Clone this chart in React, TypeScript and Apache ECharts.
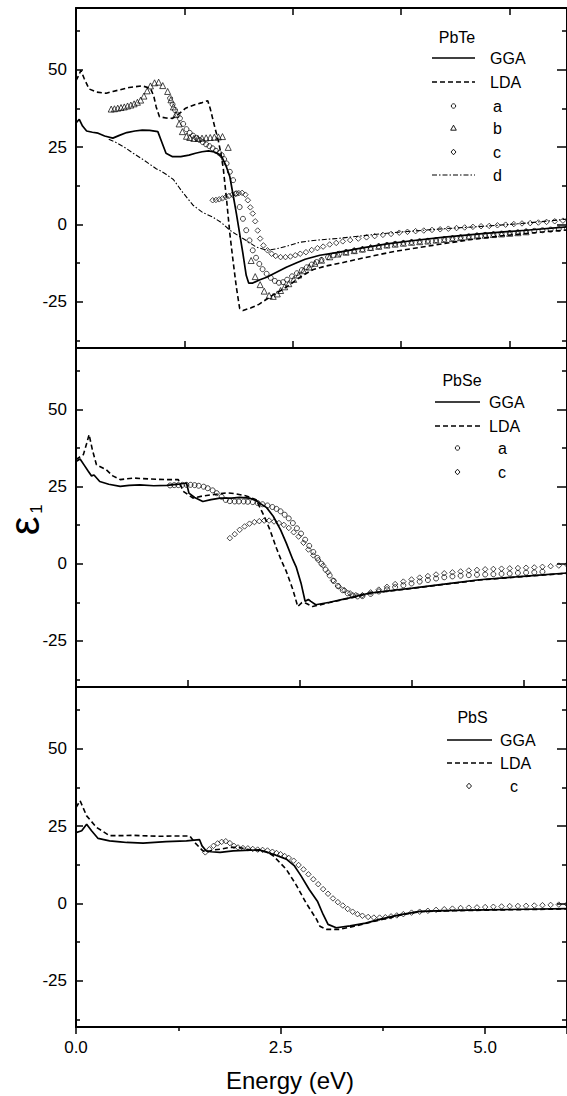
import React, { useEffect, useRef } from 'react';
import * as echarts from 'echarts';

const FONT = '"Liberation Sans", Arial, Helvetica, sans-serif';

// ---------- axes ----------
const X_MIN = 0;
const X_MAX = 6.0;
const X_INTERVAL = 2.5;
const TOP_TICK_MAX = 4.53;   // tick scale drawn on the PbTe frame
const MID_TICK_MAX = 4.39;   // tick scale drawn on the PbSe frame
const Y_MIN = -40;
const Y_MAX = 70;
const Y_MAJOR = [-25, 0, 25, 50];
const Y_MINOR = [-37.5, -12.5, 12.5, 37.5, 62.5];

// ---------- PbTe ----------
const ggaTe = [[0,32.8],[0.04,34],[0.08,31.8],[0.13,30.2],[0.2,29.8],[0.27,29.5],[0.35,28.6],[0.45,27.9],[0.53,28.8],[0.62,29.7],[0.72,30.2],[0.81,30.5],[0.9,30.4],[1.0,30],[1.05,26.5],[1.1,23],[1.18,21.9],[1.28,21.9],[1.38,22.4],[1.46,23],[1.54,23.5],[1.62,23.8],[1.69,23.4],[1.74,22.8],[1.78,21.9],[1.83,19.2],[1.88,15.4],[1.92,9.5],[1.96,3.5],[2.0,-3],[2.04,-9.5],[2.08,-16.5],[2.11,-19],[2.16,-19],[2.24,-18],[2.33,-17.1],[2.45,-15.5],[2.57,-13.9],[2.69,-12.5],[2.8,-11.3],[2.98,-10],[3.22,-9],[3.5,-7.6],[3.8,-6.3],[4.1,-5.3],[4.5,-4.1],[5.0,-2.9],[5.5,-1.9],[6.0,-0.8]];
const ldaTe = [[0,46.5],[0.03,48],[0.06,49.8],[0.1,47.2],[0.16,43.8],[0.25,42.8],[0.37,42.4],[0.45,43],[0.53,43.5],[0.65,44.3],[0.81,44.8],[0.91,44],[0.95,41.5],[0.98,38],[1.02,34.8],[1.1,34.4],[1.18,34.3],[1.26,35.8],[1.34,37.6],[1.45,38.7],[1.53,39.3],[1.61,40],[1.64,37.5],[1.7,31],[1.74,27],[1.77,23],[1.8,18],[1.84,8],[1.88,-3],[1.92,-12],[1.96,-20.4],[2.0,-27.2],[2.04,-27.9],[2.14,-27],[2.24,-25.8],[2.41,-22.8],[2.53,-21],[2.65,-18.8],[2.77,-16.5],[2.9,-14.6],[3.05,-13.5],[3.22,-12.6],[3.54,-10.7],[3.9,-8.7],[4.36,-6.8],[4.8,-5],[5.17,-3.8],[5.6,-2.7],[6.0,-1.8]];
const dTe = [[0.4,27.5],[0.49,26.5],[0.6,24.8],[0.7,23],[0.84,20.6],[0.98,18],[1.02,17.5],[1.1,16.2],[1.19,14.5],[1.3,10.5],[1.43,6.2],[1.55,3.8],[1.67,2.4],[1.78,0.5],[1.88,-1.9],[1.98,-3.6],[2.08,-5.2],[2.2,-7.3],[2.33,-8.4],[2.45,-7.9],[2.61,-6.8],[2.73,-5.8],[2.9,-5.2],[3.22,-4.5],[3.6,-3.4],[3.95,-2.5],[4.5,-1.4],[5.0,-0.6],[5.5,0.4],[6.0,1.7]];
const aTe = [[1.15,40.8],[1.18,38.8],[1.21,37],[1.24,35.5],[1.27,34.3],[1.31,32.5],[1.35,30.8],[1.39,29.6],[1.43,28.7],[1.47,28],[1.51,27.3],[1.55,26.6],[1.59,25.9],[1.63,25.3],[1.67,24.6],[1.71,23.8],[1.75,23.1],[1.78,22.4],[1.81,21.1],[1.84,19.7],[1.88,17],[1.92,14.3],[1.96,10],[2.0,5.6],[2.04,1.8],[2.08,-1.9],[2.12,-5.2],[2.16,-8.4],[2.2,-10.8],[2.24,-12.8],[2.28,-14.5],[2.33,-16],[2.38,-17.3],[2.43,-18.3],[2.48,-18.9],[2.53,-18.7],[2.58,-17.9],[2.64,-16.8],[2.7,-15.8],[2.76,-14.8],[2.82,-13.9],[2.88,-13],[2.94,-12.2],[3.0,-11.5],[3.08,-10.6],[3.15,-10],[3.22,-9.5],[3.3,-9],[3.4,-8.5],[3.5,-8.1],[3.6,-7.6],[3.7,-7.1],[3.8,-6.7],[3.9,-6.3],[4.0,-6],[4.1,-5.7],[4.2,-5.5],[4.3,-5.3],[4.4,-5.1],[4.5,-4.8],[4.6,-4.5],[4.7,-4.2],[4.8,-3.9],[4.9,-3.6],[5.0,-3.4],[5.1,-3.2],[5.2,-3],[5.3,-2.8],[5.4,-2.6],[5.5,-2.3],[5.6,-2.1],[5.7,-1.9],[5.8,-1.7],[5.9,-1.5],[6.0,-1.3]];
const bTe = [[0.43,37.3],[0.47,37.4],[0.51,37.6],[0.55,37.8],[0.59,38],[0.63,38.3],[0.67,38.6],[0.71,39],[0.75,39.5],[0.79,40.2],[0.83,41.5],[0.87,43.2],[0.91,44.8],[0.96,45.8],[1.01,46],[1.06,44.9],[1.12,43],[1.16,40.3],[1.19,38],[1.22,35.5],[1.26,32.5],[1.3,30],[1.35,28.5],[1.39,28.1],[1.44,27.8],[1.49,27.8],[1.54,27.9],[1.59,28],[1.64,28.1],[1.69,28.2],[1.74,28.3],[1.79,28.4],[1.86,24.9],[2.14,-11.7],[2.19,-16.9],[2.25,-19.5],[2.3,-21.6],[2.36,-23],[2.41,-23.3],[2.46,-22.5],[2.5,-21.4],[2.55,-20.2],[2.6,-19.2],[2.66,-17.8],[2.72,-16.4],[2.78,-15],[2.85,-13.8],[2.92,-12.6],[3.0,-11.6],[3.1,-10.5],[3.2,-9.6],[3.3,-9],[3.4,-8.5],[3.5,-8],[3.6,-7.5],[3.7,-7.1],[3.8,-6.7],[3.9,-6.4],[4.0,-6.1],[4.1,-5.8],[4.2,-5.6],[4.3,-5.4],[4.4,-5.1],[4.5,-4.9],[4.6,-4.6],[4.7,-4.3],[4.8,-4],[4.9,-3.7],[5.0,-3.5],[5.1,-3.3],[5.2,-3.1],[5.3,-2.9],[5.4,-2.7],[5.5,-2.4]];
const cTe = [[1.67,7.8],[1.71,7.9],[1.75,8.1],[1.79,8.4],[1.83,8.8],[1.87,9.2],[1.91,9.6],[1.95,9.9],[1.99,10.1],[2.03,10.2],[2.07,9.6],[2.1,7.8],[2.13,5.5],[2.16,3.5],[2.19,1],[2.22,-2],[2.25,-4.6],[2.29,-6.8],[2.34,-8.4],[2.39,-9.5],[2.44,-10.2],[2.5,-10.6],[2.56,-10.6],[2.62,-10.4],[2.68,-10],[2.74,-9.5],[2.81,-9],[2.88,-8.3],[2.95,-7.7],[3.02,-7.2],[3.1,-6.5],[3.18,-6],[3.26,-5.5],[3.35,-5.1],[3.45,-4.6],[3.55,-4.2],[3.65,-3.8],[3.75,-3.4],[3.85,-3.1],[3.95,-2.7],[4.05,-2.4],[4.15,-2.2],[4.25,-2],[4.35,-1.8],[4.45,-1.6],[4.55,-1.4],[4.65,-1.2],[4.75,-1],[4.85,-0.8],[4.95,-0.6],[5.05,-0.5],[5.15,-0.3],[5.25,-0.1],[5.35,0.1],[5.45,0.3],[5.55,0.4],[5.65,0.6],[5.75,0.8],[5.85,1],[5.95,1.2]];

// ---------- PbSe ----------
const ggaSe = [[0,33.2],[0.05,34],[0.1,32],[0.15,30],[0.19,28.5],[0.22,28.8],[0.29,26.7],[0.4,25.8],[0.54,25.1],[0.65,25.4],[0.78,25.6],[0.95,25.3],[1.11,25.4],[1.25,25.8],[1.35,26.2],[1.38,22.9],[1.45,21.5],[1.55,20.2],[1.65,20.8],[1.76,21.3],[1.9,21.3],[2.0,21.5],[2.12,21.3],[2.2,20.5],[2.24,19.7],[2.33,18.2],[2.41,15.4],[2.5,11],[2.57,6.7],[2.65,1.3],[2.69,-1],[2.75,-6.3],[2.8,-12.2],[2.84,-11.6],[2.87,-12.2],[2.93,-13.3],[3.1,-12.5],[3.34,-11.1],[3.59,-9.5],[4.11,-7.9],[4.5,-6.6],[4.93,-5.2],[5.5,-4],[6.0,-3]];
const ldaSe = [[0,33.8],[0.09,35.4],[0.13,39],[0.16,41.9],[0.2,37],[0.25,32.1],[0.37,30.5],[0.45,28.5],[0.54,27.3],[0.7,27.8],[0.9,27.5],[1.1,27.3],[1.25,27.3],[1.31,23.5],[1.43,21.3],[1.55,22],[1.67,22.4],[1.84,23],[1.95,22.7],[2.08,22],[2.2,20.8],[2.3,15.4],[2.37,11],[2.45,5],[2.51,1],[2.57,-2.5],[2.65,-8.4],[2.71,-13.9],[2.76,-12.6],[2.81,-12.8],[2.89,-13.9],[3.1,-12.6],[3.34,-11.2],[3.59,-9.6],[4.11,-8],[4.5,-6.7],[4.93,-5.3],[5.5,-4.1],[6.0,-3.1]];
const aSe = [[1.15,25.4],[1.2,25.5],[1.25,25.5],[1.3,25.6],[1.35,25.6],[1.4,25.6],[1.45,25.5],[1.5,25.3],[1.56,25],[1.61,24.5],[1.67,23.8],[1.72,22.9],[1.78,21.7],[1.83,20.7],[1.88,20.3],[1.94,20.2],[1.99,20.2],[2.05,20.2],[2.1,20.1],[2.16,20],[2.22,19.7],[2.28,19.3],[2.34,18.9],[2.4,18.4],[2.45,17.8],[2.5,17],[2.55,15.9],[2.6,14.7],[2.65,13.2],[2.7,11.5],[2.75,9.8],[2.8,7.8],[2.85,5.8],[2.9,3.8],[2.95,1.9],[3.0,0],[3.05,-1.9],[3.1,-3.8],[3.15,-5.6],[3.2,-7.2],[3.26,-8.6],[3.32,-9.6],[3.38,-10.3],[3.44,-10.6],[3.5,-10.5],[3.6,-9.8],[3.7,-9],[3.8,-8.3],[3.9,-7.6],[4.0,-7],[4.1,-6.4],[4.2,-5.8],[4.3,-5.3],[4.4,-4.8],[4.5,-4.4],[4.6,-4.1],[4.7,-3.9],[4.8,-3.7],[4.9,-3.6],[5.0,-3.5],[5.1,-3.4],[5.2,-3.3],[5.3,-3.2],[5.4,-3],[5.5,-2.9],[5.6,-2.8],[5.7,-2.6]];
const cSe = [[1.88,8.3],[1.94,9.6],[2.0,11],[2.06,12.1],[2.12,13],[2.18,13.5],[2.24,13.8],[2.3,14],[2.36,14],[2.42,13.7],[2.48,13.2],[2.54,12.6],[2.6,11.6],[2.66,10.2],[2.72,8.8],[2.78,6.8],[2.84,4.6],[2.9,2.7],[2.96,1.2],[3.02,-0.6],[3.08,-2.8],[3.14,-5.4],[3.21,-7.4],[3.28,-8.6],[3.35,-9.6],[3.42,-10.2],[3.5,-10.2],[3.6,-9.3],[3.7,-8.4],[3.8,-7.5],[3.9,-6.6],[4.0,-5.8],[4.1,-5.1],[4.2,-4.5],[4.3,-4],[4.4,-3.5],[4.5,-3.1],[4.6,-2.8],[4.7,-2.5],[4.8,-2.2],[4.9,-2],[5.0,-1.8],[5.1,-1.7],[5.2,-1.6],[5.3,-1.5],[5.4,-1.4],[5.5,-1.3],[5.6,-1.2],[5.7,-1],[5.8,-0.8],[5.9,-0.6],[6.0,-0.3]];

// ---------- PbS ----------
const ggaS = [[0,22.9],[0.07,23.5],[0.13,25.6],[0.19,23.5],[0.27,21],[0.41,20.2],[0.54,19.9],[0.62,19.7],[0.82,19.5],[1.1,20],[1.35,20.2],[1.51,20.6],[1.54,18.6],[1.59,17],[1.65,16.7],[1.76,16.5],[1.92,17],[2.24,17.3],[2.41,15.9],[2.57,14.3],[2.67,12.1],[2.75,8.9],[2.85,4.5],[2.95,0.7],[3.02,-3.6],[3.08,-6.8],[3.18,-7.9],[3.35,-7.3],[3.54,-6.4],[3.71,-5.2],[3.95,-3.7],[4.2,-2.6],[4.6,-2.3],[5.0,-2.1],[5.5,-1.9],[6.0,-1.7]];
const ldaS = [[0,31],[0.05,33.2],[0.13,28.3],[0.25,24.6],[0.41,21.9],[0.54,21.9],[0.7,22],[1.02,21.7],[1.2,21.8],[1.39,21.8],[1.45,19.7],[1.55,17],[1.59,16.5],[1.67,17.3],[1.76,17.5],[1.88,18.1],[2.0,18.1],[2.08,17.5],[2.24,17],[2.33,16.7],[2.41,15.4],[2.49,13.2],[2.57,11],[2.69,6],[2.81,0.2],[2.94,-5.2],[2.98,-7.4],[3.06,-8.4],[3.22,-8.4],[3.4,-7.4],[3.71,-5.4],[4.0,-3.6],[4.2,-2.7],[4.6,-2.4],[5.0,-2.2],[5.5,-2],[6.0,-1.8]];
const cS = [[1.58,16.5],[1.63,17.5],[1.68,18.6],[1.73,19.4],[1.78,19.9],[1.83,20.1],[1.88,19.5],[1.93,18.6],[1.98,18.1],[2.04,17.9],[2.1,17.8],[2.16,17.6],[2.22,17.4],[2.28,17.3],[2.34,17.1],[2.4,16.7],[2.45,16.3],[2.5,15.9],[2.55,15.3],[2.6,14.7],[2.66,13.8],[2.72,12.4],[2.78,11],[2.84,9.4],[2.9,7.8],[2.96,6.2],[3.02,4.6],[3.08,3.1],[3.14,1.6],[3.2,0.4],[3.26,-0.7],[3.32,-1.8],[3.38,-2.7],[3.44,-3.5],[3.5,-4],[3.57,-4.4],[3.64,-4.6],[3.71,-4.6],[3.78,-4.5],[3.85,-4.2],[3.92,-3.9],[4.0,-3.5],[4.1,-3],[4.2,-2.7],[4.3,-2.4],[4.4,-2.1],[4.5,-1.9],[4.6,-1.7],[4.7,-1.5],[4.8,-1.4],[4.9,-1.3],[5.0,-1.2],[5.1,-1.1],[5.2,-1],[5.3,-0.9],[5.4,-0.85],[5.5,-0.8],[5.6,-0.7],[5.7,-0.6],[5.8,-0.5],[5.9,-0.4],[6.0,-0.3]];

const DASH = [5, 3];
const DASHDOT = [5, 2, 1.5, 2];

function lineSeries(name: string, data: number[][], g: number, type: any, width: number) {
  return {
    name, type: 'line', data, xAxisIndex: g * 3, yAxisIndex: g * 4,
    symbol: 'none', showSymbol: false, smooth: false,
    lineStyle: { color: '#000', width, type },
    z: 3,
  };
}
function scatterSeries(name: string, data: number[][], g: number, symbol: string, size: number) {
  return {
    name, type: 'scatter', data, xAxisIndex: g * 3, yAxisIndex: g * 4,
    symbol, symbolSize: size,
    itemStyle: { color: 'rgba(0,0,0,0)', borderColor: '#000', borderWidth: 0.9 },
    z: 4,
  };
}

function buildOption() {
  const grids = [
    { left: 76, top: 8, width: 493, height: 340 },
    { left: 76, top: 348, width: 493, height: 339 },
    { left: 76, top: 687, width: 493, height: 340 },
  ];
  const frameLine = { show: true, onZero: false, lineStyle: { color: '#000', width: 2 } };
  const xAxis: any[] = [];
  const hiddenData = (g: number) => ({ type: 'value', gridIndex: g, min: X_MIN, max: X_MAX, show: false, axisLine: { onZero: false } });
  const tickAxis = (g: number, pos: string, max: number, ticks: boolean) => ({
    type: 'value', gridIndex: g, position: pos, min: 0, max, interval: 1,
    axisLine: frameLine,
    axisTick: { show: ticks, inside: true, length: 7, lineStyle: { color: '#000', width: 1.5 } },
    axisLabel: { show: false }, splitLine: { show: false },
  });
  // grid 0
  xAxis.push(hiddenData(0), tickAxis(0, 'top', TOP_TICK_MAX, true), tickAxis(0, 'bottom', TOP_TICK_MAX, true));
  // grid 1
  xAxis.push(hiddenData(1), tickAxis(1, 'top', MID_TICK_MAX, false), tickAxis(1, 'bottom', MID_TICK_MAX, true));
  // grid 2: labelled data axis
  xAxis.push({
    type: 'value', gridIndex: 2, position: 'bottom', min: X_MIN, max: X_MAX, interval: X_INTERVAL,
    axisLine: frameLine,
    axisTick: { show: true, inside: false, length: 7, lineStyle: { color: '#000', width: 1.5 } },
    minorTick: { show: true, splitNumber: 2, length: 4, lineStyle: { color: '#000', width: 1.5 } },
    axisLabel: { show: true, fontSize: 17, color: '#000', fontFamily: FONT, margin: 12, showMaxLabel: false, formatter: (v: number) => v.toFixed(1) },
    splitLine: { show: false }, minorSplitLine: { show: false },
  }, tickAxis(2, 'top', MID_TICK_MAX, false));

  const yAxis: any[] = [];
  for (let g = 0; g < 3; g++) {
    const base = { type: 'value', gridIndex: g, min: Y_MIN, max: Y_MAX, splitLine: { show: false } };
    yAxis.push({
      ...base, position: 'left', axisLine: frameLine,
      axisTick: { show: true, inside: true, length: 7, customValues: Y_MAJOR, lineStyle: { color: '#000', width: 1.5 } },
      axisLabel: { show: true, customValues: Y_MAJOR, fontSize: 17, color: '#000', fontFamily: FONT, margin: 9 },
    });
    yAxis.push({
      ...base, position: 'left', axisLine: { show: false, onZero: false },
      axisTick: { show: true, inside: true, length: 4, customValues: Y_MINOR, lineStyle: { color: '#000', width: 1.5 } },
      axisLabel: { show: false },
    });
    yAxis.push({
      ...base, position: 'right', axisLine: frameLine,
      axisTick: { show: true, inside: true, length: 10, customValues: Y_MAJOR, lineStyle: { color: '#000', width: 1.5 } },
      axisLabel: { show: false },
    });
    yAxis.push({
      ...base, position: 'right', axisLine: { show: false, onZero: false },
      axisTick: { show: true, inside: true, length: 5, customValues: Y_MINOR, lineStyle: { color: '#000', width: 1.5 } },
      axisLabel: { show: false },
    });
  }

  const series = [
    lineSeries('GGA', ggaTe, 0, 'solid', 1.7),
    lineSeries('LDA', ldaTe, 0, DASH, 1.6),
    lineSeries('d', dTe, 0, DASHDOT, 1.1),
    scatterSeries('a', aTe, 0, 'circle', 5),
    scatterSeries('b', bTe, 0, 'triangle', 6),
    scatterSeries('c', cTe, 0, 'diamond', 5.5),
    lineSeries('GGA', ggaSe, 1, 'solid', 1.7),
    lineSeries('LDA', ldaSe, 1, DASH, 1.6),
    scatterSeries('a', aSe, 1, 'circle', 5),
    scatterSeries('c', cSe, 1, 'diamond', 5.5),
    lineSeries('GGA', ggaS, 2, 'solid', 1.7),
    lineSeries('LDA', ldaS, 2, DASH, 1.6),
    scatterSeries('c', cS, 2, 'diamond', 5.5),
  ];

  // legend keys drawn as graphics
  const txt = (x: number, y: number, text: string, size = 16, align = 'left') => ({
    type: 'text', x, y, style: { text, fontSize: size, fontFamily: FONT, fill: '#000', align, verticalAlign: 'middle' }, z: 10,
  });
  const seg = (x1: number, x2: number, y: number, dash: any, w: number) => ({
    type: 'line', shape: { x1, y1: y, x2, y2: y }, style: { stroke: '#000', lineWidth: w, lineDash: dash }, z: 10,
  });
  const circ = (cx: number, cy: number) => ({ type: 'circle', shape: { cx, cy, r: 2.2 }, style: { fill: 'none', stroke: '#000', lineWidth: 0.9 }, z: 10 });
  const tri = (cx: number, cy: number) => ({ type: 'polygon', shape: { points: [[cx, cy - 2.8], [cx + 2.8, cy + 2.2], [cx - 2.8, cy + 2.2]] }, style: { fill: 'none', stroke: '#000', lineWidth: 0.9 }, z: 10 });
  const dia = (cx: number, cy: number) => ({ type: 'polygon', shape: { points: [[cx, cy - 2.8], [cx + 2.5, cy], [cx, cy + 2.8], [cx - 2.5, cy]] }, style: { fill: 'none', stroke: '#000', lineWidth: 0.9 }, z: 10 });

  const graphic: any[] = [
    // PbTe legend
    txt(457, 37, 'PbTe', 16, 'center'),
    seg(432, 475, 58, null, 1.7), txt(490, 58, 'GGA'),
    seg(432, 475, 82, DASH, 1.6), txt(490, 82, 'LDA'),
    circ(453.5, 106), txt(493, 106, 'a'),
    tri(453.5, 128), txt(493, 128, 'b'),
    dia(453.5, 152), txt(493, 152, 'c'),
    seg(432, 475, 175, DASHDOT, 1.1), txt(493, 175, 'd'),
    // PbSe legend
    txt(462, 380, 'PbSe', 16, 'center'),
    seg(435, 480, 402, null, 1.7), txt(489, 402, 'GGA'),
    seg(435, 480, 426, DASH, 1.6), txt(489, 426, 'LDA'),
    circ(457.5, 448), txt(498, 448, 'a'),
    dia(457.5, 472), txt(498, 472, 'c'),
    // PbS legend
    txt(472.5, 717, 'PbS', 16, 'center'),
    seg(447, 492, 740, null, 1.7), txt(500, 740, 'GGA'),
    seg(447, 492, 763, DASH, 1.6), txt(500, 763, 'LDA'),
    dia(469, 786), txt(510, 786, 'c'),
    // axis titles
    { type: 'text', x: 290, y: 1080, style: { text: 'Energy (eV)', fontSize: 24, fontFamily: FONT, fill: '#000', align: 'center', verticalAlign: 'middle' } },
    { type: 'text', x: 24, y: 526, rotation: Math.PI / 2, style: { text: 'ε', fontSize: 42, fontFamily: FONT, fill: '#000', align: 'center', verticalAlign: 'middle' } },
    { type: 'text', x: 36, y: 509, rotation: Math.PI / 2, style: { text: '1', fontSize: 17, fontFamily: FONT, fill: '#000', align: 'center', verticalAlign: 'middle' } },
  ];

  return {
    animation: false,
    backgroundColor: '#fff',
    textStyle: { fontFamily: FONT, color: '#000' },
    grid: grids,
    xAxis, yAxis, series, graphic,
  };
}

export default function App() {
  const ref = useRef<HTMLDivElement>(null);
  useEffect(() => {
    if (!ref.current) return;
    const chart = echarts.init(ref.current, null, { renderer: 'svg' });
    chart.setOption(buildOption() as any);
    return () => chart.dispose();
  }, []);
  return <div ref={ref} style={{ position: 'absolute', left: 0, top: 0, width: 567, height: 1096, background: '#fff' }} />;
}
